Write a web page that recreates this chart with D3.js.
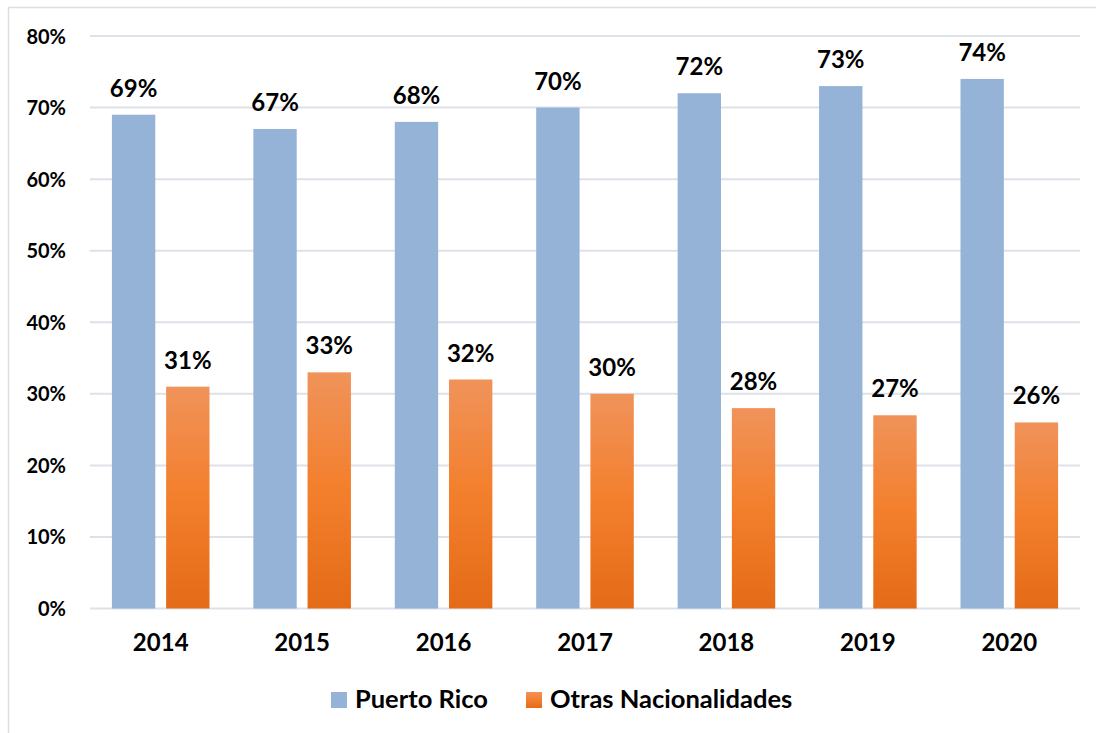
<!DOCTYPE html>
<html><head><meta charset="utf-8">
<script src="https://cdn.jsdelivr.net/npm/d3@7"></script>
<style>body{margin:0;background:#fff;} svg{display:block;font-family:Lato,"Open Sans",sans-serif;font-weight:bold;}</style>
</head><body>
<svg id="c" width="1096" height="733"></svg>
<script>
const years = ["2014","2015","2016","2017","2018","2019","2020"];
const puertoRico = [69,67,68,70,72,73,74];
const otras = [31,33,32,30,28,27,26];
const seriesNames = ["Puerto Rico","Otras Nacionalidades"];
const yTicks = [0,10,20,30,40,50,60,70,80];

(function(){
const svg = d3.select("#c");
const defs = svg.append("defs");
const grad = defs.append("linearGradient").attr("id","og").attr("x1",0).attr("y1",0).attr("x2",0).attr("y2",1);
grad.append("stop").attr("offset","0%").attr("stop-color","#f0935a");
grad.append("stop").attr("offset","50%").attr("stop-color","#f37f2c");
grad.append("stop").attr("offset","100%").attr("stop-color","#e46b17");

// border
svg.append("path").attr("d","M8.5,733 V7.5 H1096").attr("fill","none").attr("stroke","#d9dde4").attr("stroke-width",1.5);

const pLeft=90, pRight=1080, pTop=36, pBottom=608.5;
const x = d3.scaleBand().domain(years).range([pLeft,pRight]).paddingInner(0.31).paddingOuter(0.155);
const xs = d3.scaleBand().domain(seriesNames).range([0,x.bandwidth()]).paddingInner(0.2);
const y = d3.scaleLinear().domain([0,80]).range([pBottom,pTop]);

// gridlines
svg.append("g").selectAll("line").data(yTicks).join("line")
  .attr("x1",pLeft).attr("x2",pRight).attr("y1",d=>y(d)).attr("y2",d=>y(d))
  .attr("stroke","#dde1e8").attr("stroke-width",2);

// y axis labels
const yAxis = d3.axisLeft(y).tickValues(yTicks).tickFormat(d=>d+"%").tickSize(0).tickPadding(0);
const ga = svg.append("g").attr("transform",`translate(${pLeft-24},0)`).call(yAxis);
ga.select(".domain").remove();
ga.selectAll("text").attr("font-size",20).attr("font-family","Lato").attr("font-weight","bold").attr("fill","#000").attr("dy","0.35em");

// x axis labels
const xAxis = d3.axisBottom(x).tickSize(0).tickPadding(0);
const gx = svg.append("g").attr("transform",`translate(0,${pBottom})`).call(xAxis);
gx.select(".domain").remove();
gx.selectAll("text").attr("font-size",24).attr("font-family","Lato").attr("font-weight","bold").attr("fill","#000").attr("dy",null).attr("y",42.5);

const data = years.map((yr,i)=>({yr, vals:[{s:seriesNames[0],v:puertoRico[i]},{s:seriesNames[1],v:otras[i]}]}));
const fills = {"Puerto Rico":"#95b3d7","Otras Nacionalidades":"url(#og)"};

const g = svg.append("g").selectAll("g").data(data).join("g").attr("transform",d=>`translate(${x(d.yr)},0)`);
g.selectAll("rect").data(d=>d.vals).join("rect")
  .attr("x",d=>xs(d.s)).attr("width",xs.bandwidth())
  .attr("y",d=>y(d.v)).attr("height",d=>y(0)-y(d.v))
  .attr("fill",d=>fills[d.s]);
g.selectAll("text").data(d=>d.vals).join("text")
  .attr("x",d=>xs(d.s)+xs.bandwidth()/2).attr("y",d=>y(d.v)-18)
  .attr("text-anchor","middle").attr("font-size",24).attr("fill","#000")
  .text(d=>d.v+"%");

// legend
const legend = svg.append("g");
const legX = [331, 526];
seriesNames.forEach((s,i)=>{
  legend.append("rect").attr("x",legX[i]).attr("y",692).attr("width",16).attr("height",16).attr("fill",fills[s]);
  legend.append("text").attr("x",legX[i]+24).attr("y",708).attr("font-size",25.5).attr("fill","#000").text(s);
});
})();
</script>
</body></html>
